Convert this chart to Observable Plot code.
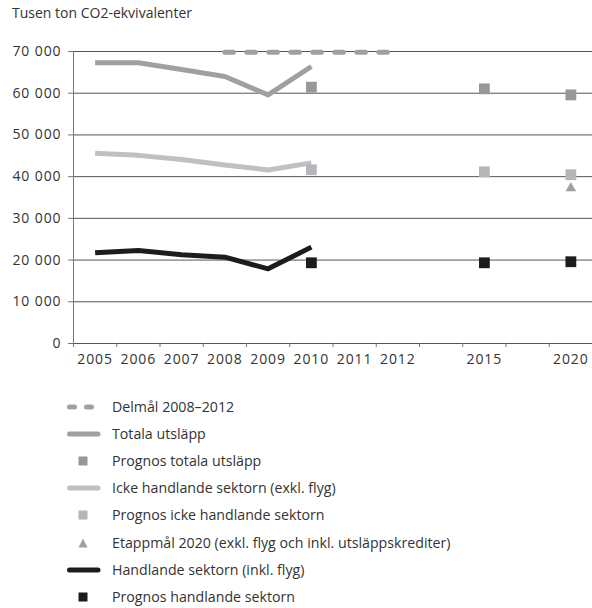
<!DOCTYPE html>
<html><head><meta charset="utf-8">
<script src="https://cdn.jsdelivr.net/npm/d3@7"></script>
<script src="https://cdn.jsdelivr.net/npm/@observablehq/plot@0.6"></script>
<style>
body{margin:0;background:#fff;font-family:"Open Sans",sans-serif;color:#333;width:592px}
#title{height:36px;padding:4px 0 0 12px;box-sizing:border-box;font-size:14px;line-height:17px;color:#333}
#chart svg{display:block}
#chart svg g[aria-label="y-axis tick label"] text, #chart svg g[aria-label="x-axis tick label"] text{letter-spacing:0.9px}
#legend{position:relative;height:228px}
.row{position:absolute;left:0;height:20px;width:592px}
.row svg{position:absolute;left:60px;top:0}
.row span{position:absolute;left:112px;top:0px;font-size:14.2px;line-height:19px;color:#333;white-space:nowrap}
</style></head><body>
<div id="title">Tusen ton CO2-ekvivalenter</div>
<div id="chart"></div>
<div id="legend"></div>
<script>
// x slots (categorical, with gaps)
const slots = ["2005","2006","2007","2008","2009","2010","2011","2012","","2015","","2020"];
const years = [2005, 2006, 2007, 2008, 2009, 2010];
const totala = [67300, 67300, 65700, 64000, 59600, 66400];
const icke = [45600, 45100, 44100, 42800, 41600, 43300];
const handlande = [21750, 22300, 21300, 20700, 17900, 23100];
const prognosYears = [2010, 2015, 2020];
const prognosTotala = [61450, 61050, 59600];
const prognosIcke = [41650, 41150, 40450];
const prognosHandlande = [19350, 19350, 19600];
const etappYears = [2020];
const etappmal = [37250];
const delmalYears = [2008, 2009, 2010, 2011, 2012];
const delmal = [69800, 69800, 69800, 69800, 69800];
const yTicks = [0, 10000, 20000, 30000, 40000, 50000, 60000, 70000];
const legendLabels = [
  "Delmål 2008–2012",
  "Totala utsläpp",
  "Prognos totala utsläpp",
  "Icke handlande sektorn (exkl. flyg)",
  "Prognos icke handlande sektorn",
  "Etappmål 2020 (exkl. flyg och inkl. utsläppskrediter)",
  "Handlande sektorn (inkl. flyg)",
  "Prognos handlande sektorn"
];

const pos = y => slots.indexOf(String(y)) + 0.5;
const series = (xs, vs) => xs.map((x, i) => ({x: pos(x), y: vs[i]}));

const cTot = "#a0a0a4", cIcke = "#c0c0c4", cTotSq = "#98989c", cIckeSq = "#b6b6ba", cTri = "#a0a0a4", cHand = "#1c1c1c";
const fmt = n => d3.format(",")(n).replace(/,/g, " ");

const chart = Plot.plot({
  width: 592, height: 344,
  marginLeft: 73, marginRight: 0, marginTop: 15, marginBottom: 37,
  style: {fontFamily: "Open Sans", fontSize: "14px", color: "#333", background: "#fff"},
  x: {type: "linear", domain: [0, 12]},
  y: {domain: [0, 70000]},
  marks: [
    Plot.gridY(yTicks, {stroke: "#555", strokeOpacity: 1, strokeWidth: 1}),
    Plot.ruleX([0], {y1: 0, y2: 70000, stroke: "#777", strokeWidth: 1}),
    Plot.axisY(yTicks, {tickSize: 5, tickPadding: 7, tickFormat: fmt, stroke: "#777", label: null}),
    Plot.axisX(d3.range(0, 13), {tickSize: 4, tickFormat: () => "", stroke: "#777", label: null}),
    Plot.axisX(d3.range(0, 12).map(i => i + 0.5), {tickSize: 0, tickPadding: 11, tickFormat: i => slots[Math.floor(i)], label: null}),
    Plot.line(series(delmalYears, delmal), {x: "x", y: "y", stroke: cTot, strokeWidth: 5, strokeDasharray: "8.5 13.5", strokeLinecap: "round"}),
    Plot.line(series(years, totala), {x: "x", y: "y", stroke: cTot, strokeWidth: 5, strokeLinecap: "butt"}),
    Plot.line(series(years, icke), {x: "x", y: "y", stroke: cIcke, strokeWidth: 5, strokeLinecap: "butt"}),
    Plot.line(series(years, handlande), {x: "x", y: "y", stroke: cHand, strokeWidth: 5, strokeLinecap: "butt"}),
    Plot.dot(series(prognosYears, prognosTotala), {x: "x", y: "y", symbol: "square", r: 6.1, fill: cTotSq}),
    Plot.dot(series(prognosYears, prognosIcke), {x: "x", y: "y", symbol: "square", r: 6.1, fill: cIckeSq}),
    Plot.dot(series(prognosYears, prognosHandlande), {x: "x", y: "y", symbol: "square", r: 6.1, fill: cHand}),
    Plot.dot(series(etappYears, etappmal), {x: "x", y: "y", symbol: "triangle", r: 3.9, fill: cTri})
  ]
});
document.getElementById("chart").appendChild(chart);

// legend
const legend = d3.select("#legend");
const kinds = [
  {t: "dash", c: cTot}, {t: "line", c: cTot}, {t: "sq", c: cTotSq},
  {t: "line", c: cIcke}, {t: "sq", c: cIckeSq}, {t: "tri", c: cTri},
  {t: "line", c: cHand}, {t: "sq", c: cHand}
];
legendLabels.forEach((lab, i) => {
  const row = legend.append("div").attr("class", "row").style("top", (17 + i * 27.1) + "px");
  const svg = row.append("svg").attr("width", 45).attr("height", 20);
  const k = kinds[i];
  if (k.t === "line") svg.append("line").attr("x1", 9.5).attr("x2", 38).attr("y1", 10).attr("y2", 10).attr("stroke", k.c).attr("stroke-width", 5).attr("stroke-linecap", "round");
  if (k.t === "dash") svg.append("line").attr("x1", 9.5).attr("x2", 38).attr("y1", 10).attr("y2", 10).attr("stroke", k.c).attr("stroke-width", 5).attr("stroke-linecap", "round").attr("stroke-dasharray", "5 12");
  if (k.t === "sq") svg.append("rect").attr("x", 18.5).attr("y", 5.5).attr("width", 9).attr("height", 9).attr("fill", k.c);
  if (k.t === "tri") svg.append("path").attr("d", "M23,5.5L27.5,14.5L18.5,14.5Z").attr("fill", k.c);
  row.append("span").text(lab);
});
</script>
</body></html>
